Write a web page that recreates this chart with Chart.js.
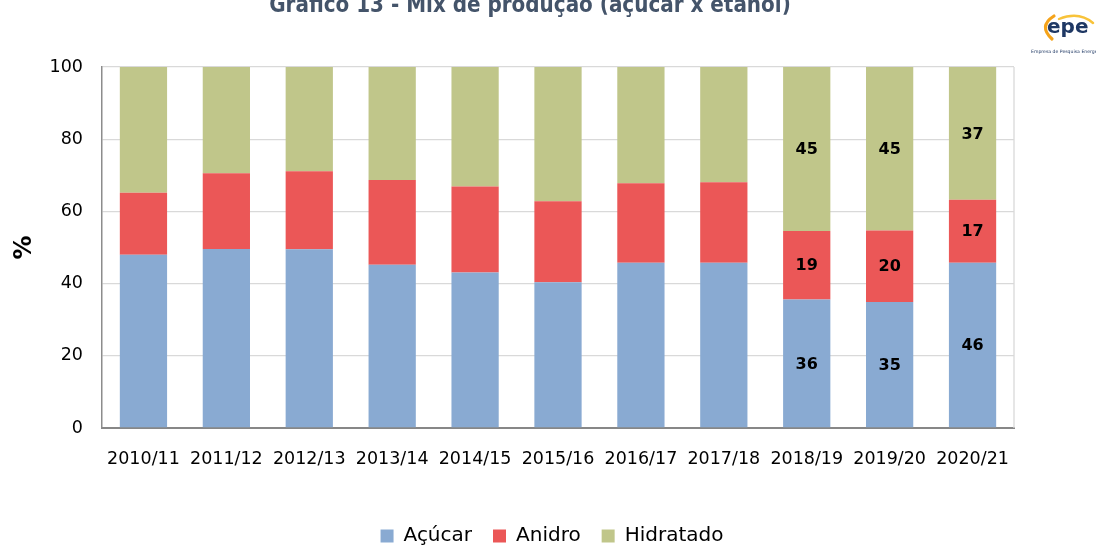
<!DOCTYPE html>
<html lang="pt">
<head>
<meta charset="utf-8">
<title>Mix de produção</title>
<script src="https://cdn.jsdelivr.net/npm/chart.js@4.4.1/dist/chart.umd.min.js"></script>
<style>
  html, body { margin: 0; padding: 0; background: #fff; }
  #wrap { position: relative; width: 1096px; height: 545px; overflow: hidden; }
  #chart { position: absolute; left: 0; top: 0; }
  #title {
    position: absolute; left: 0; top: -7px; width: 1060px;
    text-align: center; white-space: nowrap;
    font: bold 22.2px "DejaVu Sans Condensed", "DejaVu Sans", sans-serif;
    font-stretch: condensed; line-height: 22px; color: #44546A;
  }
  #logo { position: absolute; left: 1025px; top: 10px; }
</style>
</head>
<body>
<div id="wrap">
  <canvas id="chart" width="1096" height="545"></canvas>
  <div id="title">Gráfico 13 - Mix de produção (açúcar x etanol)</div>
  <svg id="logo" width="71" height="50" viewBox="0 0 71 50">
    <path d="M29 6 Q13 16 27 29" stroke="#F5A31A" stroke-width="3.2" fill="none" stroke-linecap="round"/>
    <path d="M34 9 Q54 1 68 13" stroke="#F8C33A" stroke-width="2.4" fill="none" stroke-linecap="round"/>
    <text x="22" y="23" font-family="DejaVu Sans" font-weight="bold" font-size="20" fill="#1F3864">epe</text>
    <text x="6" y="43" font-family="DejaVu Sans" font-size="4.6" fill="#1F3864">Empresa de Pesquisa Energética</text>
  </svg>
</div>

<script>
'use strict';

// Safras (categorias)
const seasons = ['2010/11', '2011/12', '2012/13', '2013/14', '2014/15', '2015/16',
                 '2016/17', '2017/18', '2018/19', '2019/20', '2020/21'];

// Participação (%) de cada destino da cana
const acucar    = [48.0, 49.6, 49.5, 45.2, 43.1, 40.4, 45.8, 45.8, 35.6, 34.9, 45.8];
const anidro    = [17.2, 21.0, 21.6, 23.5, 23.8, 22.4, 22.0, 22.3, 19.0, 19.8, 17.4];
const hidratado = [34.8, 29.4, 28.9, 31.3, 33.1, 37.2, 32.2, 31.9, 45.4, 45.3, 36.8];

const yTicks = [0, 20, 40, 60, 80, 100];

// Only these seasons carry value labels
const labeledSeasons = ['2018/19', '2019/20', '2020/21'];

const FONT = '"DejaVu Sans", sans-serif';

/* ─── value labels centred in each segment ─── */
const segmentLabels = {
  id: 'segmentLabels',
  afterDatasetsDraw(chart) {
    const ctx = chart.ctx;
    ctx.save();
    ctx.font = 'bold 16px ' + FONT;
    ctx.fillStyle = '#000';
    ctx.textAlign = 'center';
    ctx.textBaseline = 'middle';
    chart.data.datasets.forEach((ds, di) => {
      chart.getDatasetMeta(di).data.forEach((bar, i) => {
        if (!labeledSeasons.includes(seasons[i])) return;
        ctx.fillText(String(Math.round(ds.data[i])), bar.x, (bar.y + bar.base) / 2 + 1);
      });
    });
    ctx.restore();
  }
};

/* ─── light frame on the right side of the plot ─── */
const plotFrame = {
  id: 'plotFrame',
  beforeDatasetsDraw(chart) {
    const { ctx, chartArea: a } = chart;
    ctx.save();
    ctx.strokeStyle = '#d9d9d9';
    ctx.lineWidth = 1.3;
    ctx.beginPath();
    ctx.moveTo(a.right, a.top);
    ctx.lineTo(a.right, a.bottom);
    ctx.stroke();
    ctx.restore();
  }
};

// legend sits centred under the plot rather than the whole layout box
const legendShift = {
  id: 'legendShift',
  afterLayout(chart) {
    chart.legend.left += 45;
    chart.legend.right += 45;
  }
};

new Chart(document.getElementById('chart').getContext('2d'), {
  type: 'bar',
  data: {
    labels: seasons,
    datasets: [
      { label: 'Açúcar',    data: acucar,    backgroundColor: '#89AAD2' },
      { label: 'Anidro',    data: anidro,    backgroundColor: '#EB5757' },
      { label: 'Hidratado', data: hidratado, backgroundColor: '#C0C68A' }
    ]
  },
  options: {
    responsive: false,
    animation: false,
    layout: { padding: { top: 67, right: 82, left: 0, bottom: -11 } },
    datasets: { bar: { barPercentage: 0.57, categoryPercentage: 1 } },
    plugins: {
      legend: {
        position: 'bottom',
        labels: {
          font: { family: FONT, size: 20 },
          color: '#000',
          boxWidth: 13,
          boxHeight: 13,
          padding: 21
        }
      },
      tooltip: { enabled: false }
    },
    scales: {
      x: {
        stacked: true,
        grid: { display: false, drawTicks: false },
        border: { display: true, color: '#878787', width: 2 },
        ticks: { font: { family: FONT, size: 17.5 }, color: '#000', padding: 21, maxRotation: 0, autoSkip: false },
        afterFit: s => { s.height = 77; }
      },
      y: {
        stacked: true,
        min: 0,
        max: 100,
        afterBuildTicks: s => { s.ticks = yTicks.map(v => ({ value: v })); },
        grid: { color: '#d9d9d9', lineWidth: 1.3, drawTicks: false },
        border: { display: true, color: '#8c8c8c', width: 1.5 },
        ticks: { font: { family: FONT, size: 17.5 }, color: '#000', padding: 19 },
        title: {
          display: true,
          text: '%',
          font: { family: FONT, size: 24, weight: 'bold' },
          color: '#000',
          padding: { top: 10, bottom: 0 }
        },
        afterFit: s => { s.width = 102; }
      }
    }
  },
  plugins: [plotFrame, segmentLabels, legendShift]
});
</script>
</body>
</html>
